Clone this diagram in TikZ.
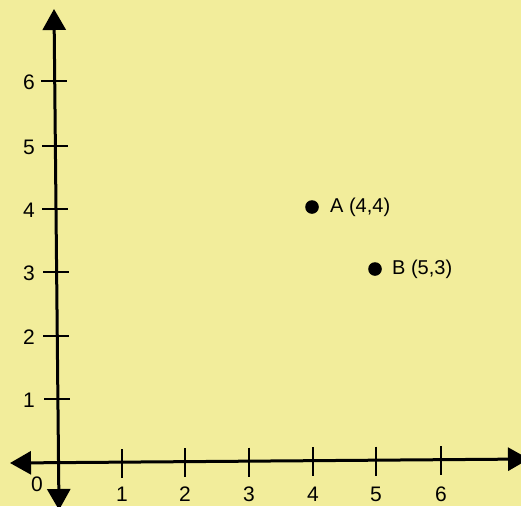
\documentclass[tikz,border=0pt]{standalone}
\usepackage{fontspec}
\setmainfont{Liberation Sans}
\usetikzlibrary{arrows.meta}
\definecolor{bg}{RGB}{242,237,155}
\begin{document}
\begin{tikzpicture}[x=1pt,y=-1pt,
  axisline/.style={line width=3pt, {Triangle[length=21pt,width=23pt]}-{Triangle[length=21pt,width=23pt]}},
  tickline/.style={line width=2.4pt},
  ticklab/.style={font=\fontsize{21}{21}\selectfont, inner sep=0pt},
  ptlab/.style={font=\fontsize{20}{20}\selectfont, inner sep=0pt, anchor=west},
  dot/.style={fill=black}
]
\useasboundingbox (0,0) rectangle (521,506);
\fill[bg] (0,0) rectangle (521,506);
\clip (0,0) rectangle (521,506);
% axes
\coordinate (xl) at (10,463);
\coordinate (xr) at (529,459);
\coordinate (yt) at (54,9);
\coordinate (yb) at (59,510);
\draw[axisline] (xl) -- (xr);
\draw[axisline] (yb) -- (yt);
% x ticks
\foreach \i/\x/\y in {1/122/463,2/185/462,3/249/461.5,4/313/461,5/376/460.5,6/441/460}{
  \draw[tickline] (\x,\y-14) -- (\x,\y+15);
  \node[ticklab] (xt\i) at (\x,494) {\i};
}
% y ticks
\foreach \i/\y/\x in {1/399/57,2/336/56,3/272/56,4/209/55,5/146/55,6/81/54}{
  \draw[tickline] (\x-13,\y) -- (\x+13,\y);
  \node[ticklab] (yl\i) at (29,\y+1) {\i};
}
\node[ticklab] (zero) at (37,484) {0};
% points
\fill[dot] (312,207) circle (6.8pt) coordinate (A);
\node[ptlab] (Alab) at (330,207) {A (4,4)};
\fill[dot] (375,269) circle (6.8pt) coordinate (B);
\node[ptlab] (Blab) at (392,269) {B (5,3)};
\end{tikzpicture}
\end{document}
